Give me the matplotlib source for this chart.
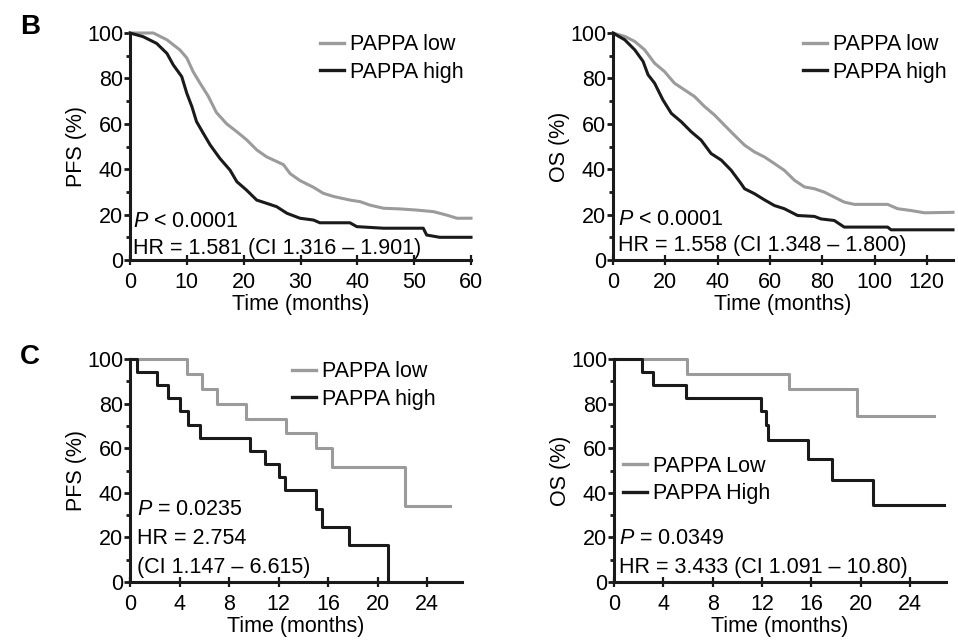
import matplotlib
matplotlib.use("Agg")
import matplotlib.pyplot as plt
from matplotlib.ticker import MultipleLocator

plt.rcParams['font.family'] = ['Liberation Sans', 'DejaVu Sans']
plt.rcParams['mathtext.fontset'] = 'custom'
plt.rcParams['mathtext.rm'] = 'Liberation Sans'
plt.rcParams['mathtext.it'] = 'Liberation Sans:italic'

GRAY = '#9b9b9b'
BLACK = '#1a1a1a'

# ---------------- Panel B, PFS ----------------
b_pfs_low_t = [0, 4.1, 6.5, 8.8, 10, 11.1, 12.3, 13.8, 15.2, 17, 18.8, 20.5, 22.3, 24, 27, 28.2,
               29.9, 32.3, 34, 35.8, 38.7, 40.5, 42.2, 44.6, 47.5, 50.4, 53.4, 55.7, 57.5, 60]
b_pfs_low_s = [100, 100, 97, 92.5, 89, 83, 78, 72, 65, 60, 56.5, 53, 48.5, 45.5, 42, 38,
               35, 32, 29.4, 28, 26.4, 25.7, 24.2, 22.8, 22.5, 22, 21.3, 19.8, 18.4, 18.4]
b_pfs_high_t = [0, 2.3, 4.7, 6.5, 7.6, 9.1, 10, 10.9, 11.7, 12.9, 14.1, 15.8, 17.6, 18.8, 20.5,
                22.3, 24, 25.8, 27.6, 29.9, 32.3, 33.4, 38.7, 39.9, 44.6, 51.6, 52.2, 54.5, 60]
b_pfs_high_s = [100, 98.4, 95.4, 91, 86, 80.8, 73.4, 67.5, 61, 55.8, 50.7, 44.8, 39.6, 34.5, 30.8,
                26.4, 25, 23.5, 20.6, 18.4, 17.6, 16.4, 16.4, 14.7, 14, 14, 11, 10, 10]

# ---------------- Panel B, OS ----------------
b_os_low_t = [0, 4.5, 8.3, 12.1, 15.9, 19.7, 23.5, 27.4, 31.2, 35, 38.8, 42.6, 46.4, 50.3, 54.1,
              57.9, 61.7, 65.5, 69.4, 73.2, 77, 80.8, 84.6, 88.4, 92.3, 105, 108.8, 113.9, 119, 130]
b_os_low_s = [100, 98.5, 96.3, 92.6, 86.7, 83, 77.9, 74.9, 72, 67.6, 63.9, 59.4, 55, 50.6, 47.6,
              45.4, 42.5, 39.5, 35.1, 32.2, 31.4, 29.9, 27.7, 25.5, 24.5, 24.5, 22.6, 21.8, 20.8, 21]
b_os_high_t = [0, 4.5, 8.3, 11.5, 13.4, 15.9, 19.1, 22.3, 26.1, 29.9, 33.7, 37.5, 41.4, 45.2, 49,
               50.3, 54.1, 57.9, 61.7, 65.5, 70.6, 77, 79.5, 84.6, 88.4, 105, 106.3, 130]
b_os_high_s = [100, 97, 92.6, 87.5, 81.6, 77.9, 70.5, 64.6, 60.9, 56.5, 52.8, 46.9, 44, 39.5, 33.6,
               31.4, 29.2, 26.5, 24, 22.6, 19.6, 19.2, 18.1, 17.4, 14.5, 14.5, 13.3, 13.3]

# ---------------- Panel C, PFS ----------------
c_pfs_low_t = [0, 4.6, 5.8, 7.0, 9.4, 12.6, 15.0, 16.3, 22.2, 25.8]
c_pfs_low_s = [100, 93.3, 86.7, 80.0, 73.3, 66.7, 60.0, 51.4, 34.3, 34.3]
c_pfs_high_t = [0, 0.54, 2.2, 3.1, 4.0, 4.65, 5.65, 9.7, 10.9, 12.0, 12.5, 15.05, 15.5, 17.7, 20.8]
c_pfs_high_s = [100, 94.1, 88.2, 82.4, 76.5, 70.6, 64.7, 58.8, 52.9, 47.1, 41.2, 32.9, 24.7, 16.5, 0]

# ---------------- Panel C, OS ----------------
c_os_low_t = [0, 5.9, 14.2, 19.7, 25.9]
c_os_low_s = [100, 93.3, 86.7, 74.3, 74.3]
c_os_high_t = [0, 2.3, 3.2, 5.8, 11.9, 12.3, 12.5, 15.7, 17.7, 21.0, 26.7]
c_os_high_s = [100, 94.1, 88.2, 82.4, 76.5, 70.6, 63.5, 55.3, 45.8, 34.6, 34.6]

FS = 15.5

fig = plt.figure(figsize=(9.58, 6.4), dpi=100)

def px_axes(l, r, t, b):
    W, H = 958, 640
    return fig.add_axes([l / W, 1 - b / H, (r - l) / W, (b - t) / H])

def style(ax, xmax, xstep, ylabel):
    ax.set_xlim(0, xmax)
    ax.set_ylim(0, 100)
    for s in ['top', 'right']:
        ax.spines[s].set_visible(False)
    for s in ['left', 'bottom']:
        ax.spines[s].set_linewidth(2.2)
        ax.spines[s].set_color(BLACK)
    ax.xaxis.set_major_locator(MultipleLocator(xstep))
    ax.yaxis.set_major_locator(MultipleLocator(20))
    ax.yaxis.set_minor_locator(MultipleLocator(10))
    ax.tick_params(axis='y', which='major', direction='out', length=4, width=2, labelsize=FS, pad=1, color=BLACK)
    ax.tick_params(axis='y', which='minor', direction='out', length=3, width=2, color=BLACK)
    ax.tick_params(axis='x', which='major', direction='inout', length=7, width=1.6, labelsize=FS, pad=5, color=BLACK)
    ax.set_xlabel('Time (months)', fontsize=FS, labelpad=1)
    ax.set_ylabel(ylabel, fontsize=FS, labelpad=0)

def add_legend(ax, labels, x, y):
    h1, = ax.plot([], [], color=GRAY, lw=2.4)
    h2, = ax.plot([], [], color=BLACK, lw=2.4)
    ax.legend([h1, h2], labels, loc='upper left', bbox_to_anchor=(x, y), frameon=False,
              fontsize=FS, handlelength=1.1, handletextpad=0.3, labelspacing=0.3,
              borderpad=0, borderaxespad=0)

# B left
ax = px_axes(130, 471, 33, 260)
ax.plot(b_pfs_low_t, b_pfs_low_s, color=GRAY, lw=2.2, clip_on=False)
ax.plot(b_pfs_high_t, b_pfs_high_s, color=BLACK, lw=2.2, clip_on=False)
style(ax, 60, 10, 'PFS (%)')
add_legend(ax, ['PAPPA low', 'PAPPA high'], 0.557, 0.995)
ax.text(0.6, 16.9, '$P$ < 0.0001', fontsize=FS, va='center', ha='left')
ax.text(0.6, 5.1, 'HR = 1.581 (CI 1.316 – 1.901)', fontsize=FS, va='center', ha='left')

# B right
ax = px_axes(613, 953, 33, 260)
ax.plot(b_os_low_t, b_os_low_s, color=GRAY, lw=2.2, clip_on=False)
ax.plot(b_os_high_t, b_os_high_s, color=BLACK, lw=2.2, clip_on=False)
style(ax, 130, 20, 'OS (%)')
add_legend(ax, ['PAPPA low', 'PAPPA high'], 0.559, 0.995)
ax.text(1.9, 18.0, '$P$ < 0.0001', fontsize=FS, va='center', ha='left')
ax.text(1.9, 6.2, 'HR = 1.558 (CI 1.348 – 1.800)', fontsize=FS, va='center', ha='left')

# C left
ax = px_axes(130, 462, 359, 582)
ax.step(c_pfs_low_t, c_pfs_low_s, where='post', color=GRAY, lw=2.2, clip_on=False)
ax.step(c_pfs_high_t, c_pfs_high_s, where='post', color=BLACK, lw=2.2, clip_on=False)
style(ax, 26.8, 4, 'PFS (%)')
add_legend(ax, ['PAPPA low', 'PAPPA high'], 0.488, 0.99)
ax.text(0.55, 32.7, '$P$ = 0.0235', fontsize=FS, va='center', ha='left')
ax.text(0.55, 19.7, 'HR = 2.754', fontsize=FS, va='center', ha='left')
ax.text(0.55, 6.7, '(CI 1.147 – 6.615)', fontsize=FS, va='center', ha='left')

# C right
ax = px_axes(614, 946, 359, 582)
ax.step(c_os_low_t, c_os_low_s, where='post', color=GRAY, lw=2.2, clip_on=False)
ax.step(c_os_high_t, c_os_high_s, where='post', color=BLACK, lw=2.2, clip_on=False)
style(ax, 26.9, 4, 'OS (%)')
add_legend(ax, ['PAPPA Low', 'PAPPA High'], 0.027, 0.565)
ax.text(0.4, 19.3, '$P$ = 0.0349', fontsize=FS, va='center', ha='left')
ax.text(0.4, 6.7, 'HR = 3.433 (CI 1.091 – 10.80)', fontsize=FS, va='center', ha='left')

fig.text(20 / 958, 1 - 27 / 640, 'B', fontsize=20, fontweight='bold', va='center', ha='left')
fig.text(20 / 958, 1 - 357 / 640, 'C', fontsize=20, fontweight='bold', va='center', ha='left')

fig.savefig('out.png', dpi=100)
